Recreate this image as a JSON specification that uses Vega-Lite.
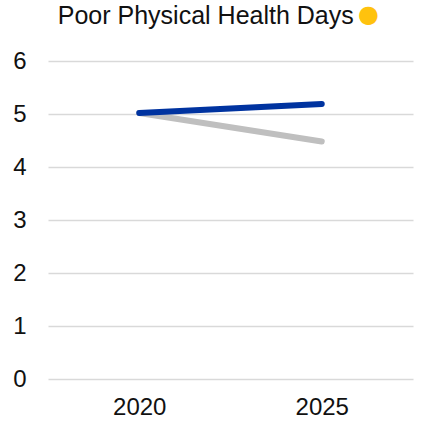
{
  "$schema": "https://vega.github.io/schema/vega-lite/v6.json",
  "width": 421,
  "height": 421,
  "autosize": {"type": "fit", "contains": "padding"},
  "padding": {"left": 12, "right": 8, "top": 3, "bottom": 2},
  "background": "white",
  "title": {
    "text": "Poor Physical Health Days \u2800",
    "subtitle": "●",
    "anchor": "end",
    "frame": "group",
    "dx": -34,
    "font": "Liberation Sans, DejaVu Sans",
    "fontSize": 25,
    "fontWeight": "normal",
    "color": "#111111",
    "subtitleFont": "DejaVu Sans",
    "subtitleFontSize": 24,
    "subtitleColor": "#FFC20E",
    "subtitlePadding": -26,
    "offset": 19
  },
  "config": {
    "view": {"stroke": null},
    "axis": {
      "labelFont": "Liberation Sans",
      "labelFontSize": 24,
      "labelColor": "#111111",
      "domain": false,
      "ticks": false,
      "title": null
    }
  },
  "data": {
    "values": [
      {"year": "2020", "series": "Comparison", "value": 5.02},
      {"year": "2025", "series": "Comparison", "value": 4.48},
      {"year": "2020", "series": "Current", "value": 5.02},
      {"year": "2025", "series": "Current", "value": 5.19}
    ]
  },
  "mark": {"type": "line", "strokeWidth": 6, "strokeCap": "round"},
  "encoding": {
    "x": {
      "field": "year",
      "type": "ordinal",
      "scale": {"type": "point", "padding": 0.5},
      "axis": {"labelAngle": 0, "labelPadding": 16, "grid": false}
    },
    "y": {
      "field": "value",
      "type": "quantitative",
      "scale": {"domain": [0, 6], "nice": false},
      "axis": {"values": [0, 1, 2, 3, 4, 5, 6], "labelPadding": 22, "grid": true, "gridColor": "#d9d9d9", "gridWidth": 1.5}
    },
    "color": {
      "field": "series",
      "type": "nominal",
      "scale": {"domain": ["Comparison", "Current"], "range": ["#BFBFBF", "#0033A0"]},
      "legend": null
    },
    "order": {"field": "year"},
    "detail": {"field": "series"}
  }
}
